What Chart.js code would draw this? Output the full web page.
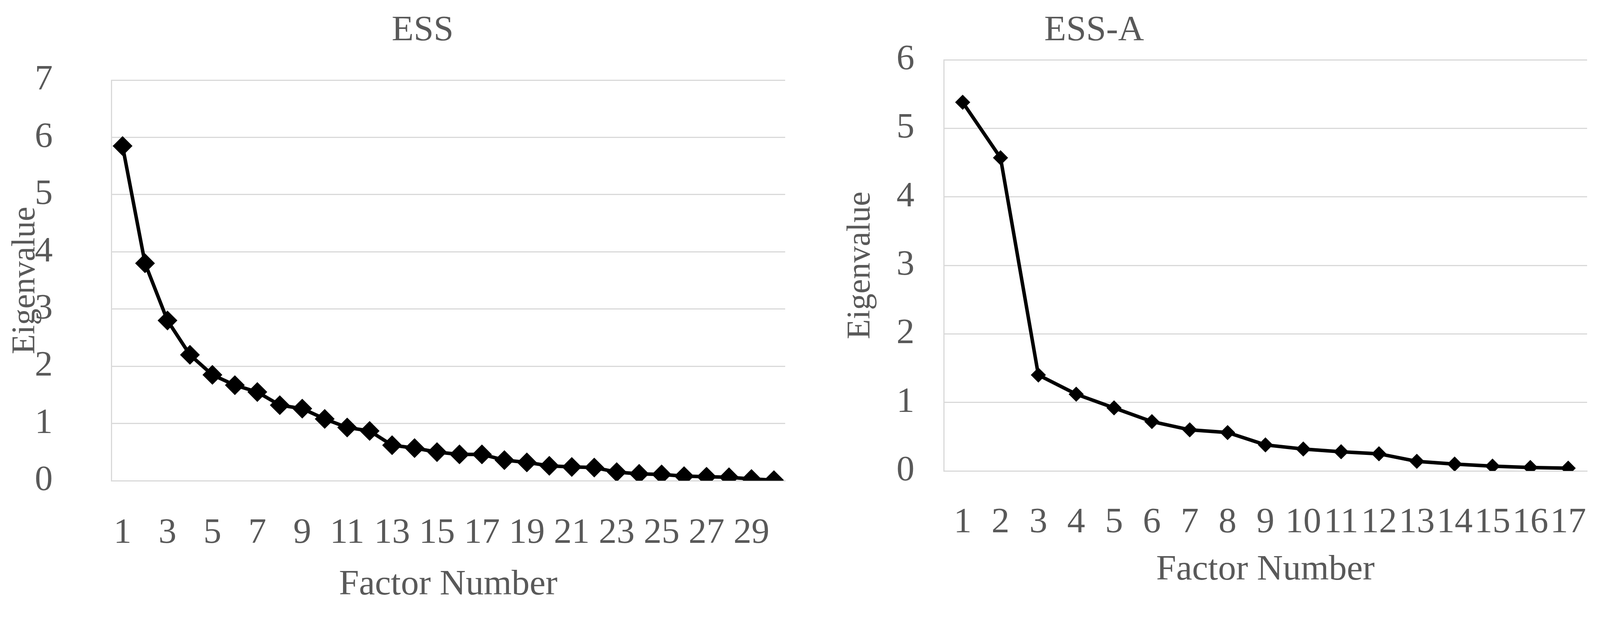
<!DOCTYPE html>
<html><head><meta charset="utf-8">
<script src="https://cdn.jsdelivr.net/npm/chart.js@4/dist/chart.umd.min.js"></script>
<style>body{margin:0;background:#fff}#a{position:absolute;left:0;top:0}#b{position:absolute;left:2070px;top:0}</style>
</head><body>
<div id="a" style="width:2070px;height:1589px"><canvas id="c1"></canvas></div>
<div id="b" style="width:2067px;height:1589px"><canvas id="c2"></canvas></div>
<script>
const essFactors = Array.from({length:30},(_,i)=>String(i+1));
const essValues = [5.85,3.8,2.8,2.2,1.85,1.67,1.55,1.32,1.26,1.08,0.93,0.87,0.62,0.57,0.5,0.46,0.46,0.36,0.32,0.26,0.24,0.23,0.15,0.12,0.11,0.08,0.07,0.06,0.03,0.01];
const essAFactors = Array.from({length:17},(_,i)=>String(i+1));
const essAValues = [5.38,4.57,1.4,1.12,0.92,0.72,0.6,0.56,0.38,0.32,0.28,0.25,0.14,0.1,0.07,0.05,0.04];
const FONT = "'Liberation Serif','DejaVu Serif',serif";
const GRAY = '#595959';
function make(id, title, labels, values, o){
  const titlePlugin = {id:'t', afterDraw(ch){const c=ch.ctx;c.save();c.font='92px '+FONT;c.fillStyle=GRAY;c.textAlign='center';c.textBaseline='middle';c.fillText(title,o.tx,79);c.restore();}};
  new Chart(document.getElementById(id), {
    type:'line',
    data:{labels, datasets:[{data:values,borderColor:'#000',backgroundColor:'#000',borderWidth:9,pointStyle:'rectRot',pointRadius:o.pr,pointHoverRadius:o.pr,tension:0}]},
    plugins:[titlePlugin],
    options:{responsive:true,maintainAspectRatio:false,animation:false,devicePixelRatio:1,
      layout:{padding:{top:o.top,right:o.rp,left:0,bottom:0}},
      plugins:{legend:{display:false},tooltip:{enabled:false}},
      scales:{
        x:{type:'category',offset:true,grid:{display:false},border:{display:true,color:'#d9d9d9',width:3},
          ticks:{color:GRAY,font:{family:FONT,size:92},padding:o.xtp,autoSkip:false,maxRotation:0,
            callback:function(v,i){return (i%o.step===0)?this.getLabelForValue(v):'';}},
          title:{display:true,text:'Factor Number',color:GRAY,font:{family:FONT,size:92},padding:{top:0,bottom:o.xtb}},
          afterFit(s){s.height=o.xh;}},
        y:{min:0,max:o.ymax,grid:{color:'#d9d9d9',lineWidth:3,drawTicks:false},border:{display:true,color:'#d9d9d9',width:3},
          ticks:{stepSize:1,color:GRAY,font:{family:FONT,size:92},padding:o.ytp},
          title:{display:true,text:'Eigenvalue',color:GRAY,font:{family:FONT,size:84},padding:{top:o.ytt,bottom:0}},
          afterFit(s){s.width=o.yw;}}
      }}
  });
}
make('c1','ESS',essFactors,essValues,{tx:1082,top:108,pr:19,rp:60,step:2,xh:359,xtp:72,xtb:37,ymax:7,ytp:150,ytt:16,yw:285});
make('c2','ESS-A',essAFactors,essAValues,{tx:731,top:153,pr:13,rp:74,step:1,xh:384,xtp:70,xtb:75,ymax:6,ytp:75,ytt:84,yw:346});
</script>
</body></html>
